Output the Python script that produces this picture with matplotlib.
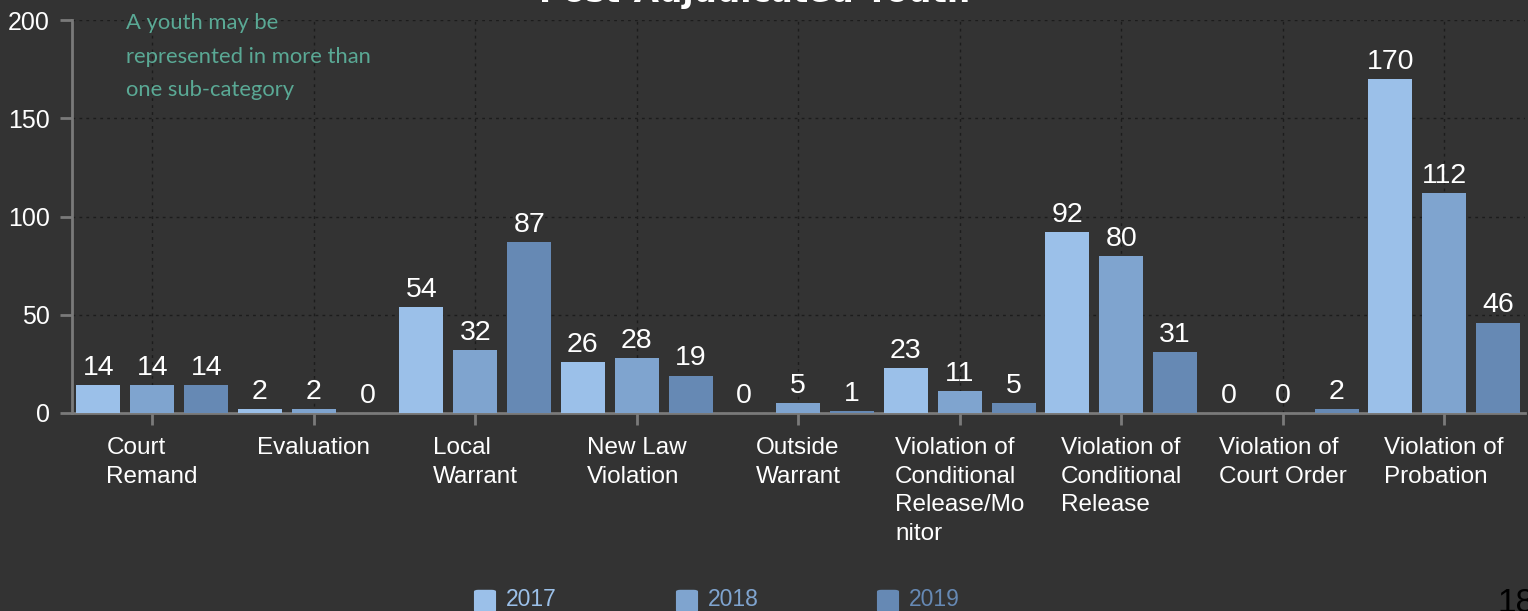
import matplotlib
matplotlib.use("Agg")
import matplotlib.pyplot as plt
from matplotlib.patches import FancyBboxPatch
import numpy as np

# Data
categories = ["Court\nRemand", "Evaluation", "Local\nWarrant", "New Law\nViolation",
              "Outside\nWarrant", "Violation of\nConditional\nRelease/Mo\nnitor",
              "Violation of\nConditional\nRelease", "Violation of\nCourt Order",
              "Violation of\nProbation"]
years = ["2017", "2018", "2019"]
counts_2017 = [14, 2, 54, 26, 0, 23, 92, 0, 170]
counts_2018 = [14, 2, 32, 28, 5, 11, 80, 0, 112]
counts_2019 = [14, 0, 87, 19, 1, 5, 31, 2, 46]
y_ticks = [0, 50, 100, 150, 200]

colors = ["#9bc0e9", "#7fa4cf", "#6689b4"]
bg = "#333333"
axis_col = "#7a7a7a"

W, H = 1528, 611
fig = plt.figure(figsize=(W / 100, H / 100), dpi=100, facecolor=bg)
ax = fig.add_axes([71.5 / W, 1 - 413 / H, 1453.5 / W, 393 / H], facecolor=bg)

x = np.arange(len(categories))
bar_w = 0.272
step = 0.334
for i, (vals, col) in enumerate(zip([counts_2017, counts_2018, counts_2019], colors)):
    bars = ax.bar(x + (i - 1) * step, vals, width=bar_w, color=col, zorder=3)
    for b, v in zip(bars, vals):
        ax.annotate(str(v), (b.get_x() + b.get_width() / 2, v), xytext=(0, 3),
                    textcoords="offset points", ha="center", va="bottom",
                    color="white", fontsize=20.5, family="Liberation Sans", zorder=4)

ax.set_xlim(-0.5, len(categories) - 0.5)
ax.set_ylim(0, 200)
ax.set_yticks(y_ticks)
ax.set_xticks(x)
ax.set_xticklabels(categories, multialignment="left")

ax.grid(True, color="#1c1c1c", linestyle=(0, (2, 3)), linewidth=1, zorder=0)
ax.set_axisbelow(True)

for s in ["top", "right"]:
    ax.spines[s].set_visible(False)
for s in ["left", "bottom"]:
    ax.spines[s].set_color(axis_col)
    ax.spines[s].set_linewidth(2)

ax.tick_params(axis="y", colors=axis_col, labelcolor="white", labelsize=18,
               length=8.6, width=2, pad=7)
ax.tick_params(axis="x", colors=axis_col, labelcolor="white", labelsize=17.5,
               length=8.6, width=2, pad=9)
for lab in ax.get_xticklabels() + ax.get_yticklabels():
    lab.set_family("Liberation Sans")
for lab in ax.get_xticklabels():
    lab.set_linespacing(1.38)

# note
ax.text(126 / W, 1 - 13 / H, "A youth may be\nrepresented in more than\none sub-category",
        transform=fig.transFigure, ha="left", va="top", color="#5aa995",
        fontsize=15.8, family="Lato", linespacing=1.85)

# title (partly cut off at the top in the reference)
fig.text(755 / W, 1 - 2 / H, "Post-Adjudicated Youth", ha="center", va="baseline",
         color="white", fontsize=23.5, fontweight="bold", family="DejaVu Sans")

# legend drawn at the bottom
leg_x = [474, 676, 877]
for lx, yr, col in zip(leg_x, years, colors):
    fig.patches.append(FancyBboxPatch(((lx + 3) / W, 1 - 611 / H), 16 / W, 20 / H,
                                      boxstyle="round,pad=0.002,rounding_size=0.003",
                                      transform=fig.transFigure, facecolor=col,
                                      edgecolor="none"))
    fig.text((lx + 32) / W, 1 - 600 / H, yr, ha="left", va="center", color=col,
             fontsize=16.5, family="Liberation Sans")

fig.text(1497 / W, 1 - 588 / H, "18", ha="left", va="top", color="black",
         fontsize=24, family="Liberation Sans")

fig.savefig("out.png", dpi=100, facecolor=bg)
